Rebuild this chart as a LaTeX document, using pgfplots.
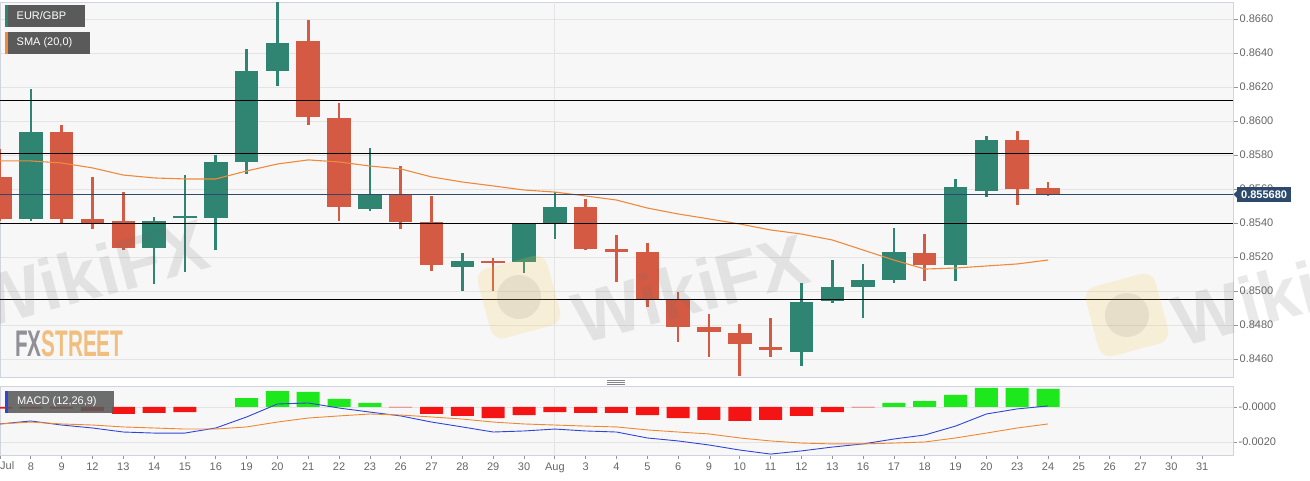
\documentclass[border=0pt]{standalone}
\usepackage{fontspec}
\setmainfont{Liberation Sans}
\usepackage{graphicx}
\usepackage{pgfplots}
\pgfplotsset{compat=1.18}
\usepackage{pgfplotstable}

\definecolor{cgreen}{HTML}{2F8571}
\definecolor{cred}{HTML}{D55A44}
\definecolor{csma}{HTML}{EE8A3C}
\definecolor{cgrid}{HTML}{E4E4E4}
\definecolor{cbg}{HTML}{F7F7F7}
\definecolor{cborder}{HTML}{D0D4DE}
\definecolor{ctick}{HTML}{666666}
\definecolor{cnavy}{HTML}{2D4A6D}
\definecolor{clegend}{HTML}{5A5A5A}
\definecolor{cmacd}{HTML}{2F45D8}
\definecolor{csig}{HTML}{EE8833}
\definecolor{hgreen}{HTML}{1CE81C}
\definecolor{hred}{HTML}{F41414}
\definecolor{wm}{HTML}{6E6464}
\definecolor{wmy}{HTML}{F2C84A}
\definecolor{fxgray}{HTML}{909096}
\definecolor{fxorange}{HTML}{F0BE7E}

% i open high low close
\pgfplotstableread{
i o h l c
1 0.85424 0.86188 0.85412 0.85935
5 0.85253 0.85435 0.85041 0.85412
6 0.85429 0.85682 0.85112 0.85441
7 0.85429 0.85800 0.85241 0.85759
8 0.85759 0.86424 0.85688 0.86294
9 0.86294 0.86700 0.86206 0.86459
12 0.85482 0.85841 0.85471 0.85571
15 0.85141 0.85224 0.85000 0.85176
17 0.85171 0.85400 0.85106 0.85394
18 0.85400 0.85582 0.85306 0.85494
26 0.84641 0.85047 0.84559 0.84935
27 0.84941 0.85182 0.84930 0.85024
28 0.85024 0.85159 0.84841 0.85065
29 0.85065 0.85371 0.85047 0.85229
31 0.85153 0.85659 0.85059 0.85612
32 0.85588 0.85912 0.85553 0.85888
}\greencandles

\pgfplotstableread{
i o h l c
0 0.85671 0.85835 0.85410 0.85424
2 0.85935 0.85976 0.85394 0.85424
3 0.85424 0.85671 0.85365 0.85400
4 0.85412 0.85582 0.85241 0.85253
10 0.86471 0.86594 0.85976 0.86024
11 0.86018 0.86106 0.85412 0.85494
13 0.85571 0.85735 0.85365 0.85406
14 0.85406 0.85559 0.85118 0.85153
16 0.85176 0.85194 0.85000 0.85165
19 0.85494 0.85541 0.85241 0.85247
20 0.85247 0.85329 0.85053 0.85229
21 0.85229 0.85282 0.84906 0.84947
22 0.84947 0.84994 0.84700 0.84788
23 0.84788 0.84865 0.84612 0.84759
24 0.84753 0.84806 0.84500 0.84688
25 0.84671 0.84841 0.84612 0.84653
30 0.85224 0.85335 0.85059 0.85153
33 0.85888 0.85941 0.85506 0.85600
34 0.85606 0.85641 0.85559 0.85568
}\redcandles

\newcommand{\tickfont}{\fontsize{11}{13}\selectfont}
\pgfplotsset{candle/.style 2 args={only marks, mark=*, mark size=0pt,
  mark options={draw=none, fill=none},
  error bars/y dir=plus, error bars/y explicit, error bars/error mark=none,
  error bars/error bar style={draw=#1, line width=#2}}}

\begin{document}
\begin{tikzpicture}[x=1pt,y=1pt]
\useasboundingbox[fill=white] (0,0) rectangle (1310,481);

% ---------------- price panel ----------------
\begin{axis}[
  at={(0pt,104pt)}, anchor=south west,
  scale only axis, width=1233pt, height=375pt,
  xmin=0, xmax=40, ymin=0.84494, ymax=0.8670,
  axis background/.style={fill=cbg},
  axis line style={draw=cborder, line width=0.8pt},
  xtick=\empty,
  extra x ticks={18}, extra x tick labels={},
  extra x tick style={grid=major, major tick length=0pt},
  ytick={0.846,0.848,0.85,0.852,0.854,0.856,0.858,0.86,0.862,0.864,0.866},
  ytick pos=right, yticklabel pos=right,
  scaled y ticks=false,
  tick align=outside, major tick length=5pt,
  tick style={draw=ctick!70, line width=0.7pt},
  ymajorgrids, major grid style={draw=cgrid, line width=0.8pt},
  /pgf/number format/assume math mode=true,
  yticklabel style={/pgf/number format/fixed, /pgf/number format/fixed zerofill,
    /pgf/number format/precision=4, font=\tickfont, text=ctick, inner sep=1.5pt},
  clip=true,
]
% wicks
\addplot[candle={cgreen}{2.6pt}]
  table[x=i, y=l, y error plus expr=\thisrow{h}-\thisrow{l}] {\greencandles};
\addplot[candle={cred}{2.6pt}]
  table[x=i, y=l, y error plus expr=\thisrow{h}-\thisrow{l}] {\redcandles};
% bodies
\addplot[candle={cgreen}{23.5pt}]
  table[x=i, y=o, y error plus expr=\thisrow{c}-\thisrow{o}] {\greencandles};
\addplot[candle={cred}{23.5pt}]
  table[x=i, y=c, y error plus expr=\thisrow{o}-\thisrow{c}] {\redcandles};
% SMA(20)
\addplot[csma, line width=1.1pt] coordinates {
(0,0.85765)(1,0.85765)(2,0.85753)(3,0.85724)(4,0.85682)(5,0.85665)(6,0.85659)(7,0.85659)
(8,0.85706)(9,0.85747)(10,0.85771)(11,0.85759)(12,0.85735)(13,0.85718)(14,0.85671)(15,0.85641)
(16,0.85618)(17,0.85594)(18,0.85582)(19,0.85559)(20,0.85535)(21,0.85488)(22,0.85453)(23,0.85424)
(24,0.85394)(25,0.85359)(26,0.85335)(27,0.853)(28,0.85241)(29,0.85182)(30,0.85129)(31,0.85135)
(32,0.85147)(33,0.85159)(34,0.85182)};
% horizontal levels
\addplot[black, line width=1pt] coordinates {(0,0.86118) (40,0.86118)};
\addplot[black, line width=1pt] coordinates {(0,0.85810) (40,0.85810)};
\addplot[black, line width=1pt] coordinates {(0,0.85398) (40,0.85398)};
\addplot[black, line width=1pt] coordinates {(0,0.84947) (40,0.84947)};
% last price line
\addplot[cnavy, line width=0.9pt] coordinates {(0,0.85568) (40,0.85568)};
\coordinate (lastp) at (axis cs:40,0.85568);
\end{axis}

% ---------------- MACD panel ----------------
\begin{axis}[
  at={(0pt,26pt)}, anchor=south west,
  scale only axis, width=1233pt, height=69pt,
  xmin=0, xmax=40, ymin=-0.002743, ymax=0.0012,
  axis background/.style={fill=cbg},
  axis line style={draw=cborder, line width=0.8pt},
  xtick={0,...,39},
  xticklabels={,8,9,12,13,14,15,16,19,20,21,22,23,26,27,28,29,30,Aug,3,4,5,6,9,10,11,12,13,16,17,18,19,20,23,24,25,26,27,30,31},
  xtick pos=bottom,
  extra x ticks={18}, extra x tick labels={},
  extra x tick style={grid=major, major tick length=0pt},
  ytick={0,-0.002}, yticklabels={-0.0000,-0.0020},
  scaled y ticks=false,
  ytick pos=right, yticklabel pos=right,
  tick align=outside, major tick length=4pt,
  tick style={draw=ctick!70, line width=0.7pt},
  ymajorgrids, major grid style={draw=cgrid, line width=0.8pt},
  yticklabel style={font=\tickfont, text=ctick, inner sep=1.5pt},
  xticklabel style={font=\tickfont, text=ctick},
  clip=true,
]
\addplot[ybar, bar width=23pt, bar shift=0pt, fill=hred, draw=none] coordinates {
(0,-0.0001)(1,-0.0001)(2,-0.0001)(3,-0.00023)(4,-0.0004)(5,-0.00034)(6,-0.00029)
(13,-0.00002)(14,-0.0004)(15,-0.00051)(16,-0.00063)(17,-0.00046)(18,-0.00029)(19,-0.00034)
(20,-0.00034)(21,-0.00046)(22,-0.00063)(23,-0.00074)(24,-0.0008)(25,-0.00074)(26,-0.00051)
(27,-0.00029)(28,-0.00002)};
\addplot[ybar, bar width=23pt, bar shift=0pt, fill=hgreen, draw=none] coordinates {
(8,0.00051)(9,0.00091)(10,0.00086)(11,0.00046)(12,0.00023)
(29,0.00023)(30,0.00034)(31,0.00069)(32,0.00109)(33,0.00109)(34,0.00103)};
\addplot[cmacd, line width=0.9pt] coordinates {
(0,-0.00097)(1,-0.0008)(2,-0.00103)(3,-0.0012)(4,-0.00143)(5,-0.00149)(6,-0.00149)(7,-0.0012)
(8,-0.00057)(9,0.00017)(10,0.00023)(11,-0.00006)(12,-0.00029)(13,-0.00051)(14,-0.00086)
(15,-0.00114)(16,-0.00143)(17,-0.00137)(18,-0.00126)(19,-0.00137)(20,-0.00143)(21,-0.00177)
(22,-0.00194)(23,-0.00217)(24,-0.00246)(25,-0.00269)(26,-0.00251)(27,-0.00229)(28,-0.00211)
(29,-0.00183)(30,-0.0016)(31,-0.00109)(32,-0.0004)(33,-0.00011)(34,0.00006)};
\addplot[csig, line width=0.9pt] coordinates {
(0,-0.00097)(1,-0.00086)(2,-0.00097)(3,-0.00103)(4,-0.00114)(5,-0.0012)(6,-0.00126)(7,-0.00126)
(8,-0.00114)(9,-0.00086)(10,-0.00063)(11,-0.00051)(12,-0.0004)(13,-0.00046)(14,-0.00057)
(15,-0.00069)(16,-0.00086)(17,-0.00097)(18,-0.00103)(19,-0.00109)(20,-0.00114)(21,-0.00131)
(22,-0.00143)(23,-0.00154)(24,-0.00177)(25,-0.00194)(26,-0.00206)(27,-0.00211)(28,-0.00211)
(29,-0.00206)(30,-0.002)(31,-0.00177)(32,-0.00149)(33,-0.0012)(34,-0.00097)};
\end{axis}

% first date label
\node[anchor=north west, inner sep=0pt, font=\tickfont, text=ctick] at (0,19.5) {Jul};

% ---------------- watermarks ----------------
\foreach \cx/\cy in {90/208, 690/193, 1290/190} {
  \node[rotate=15, font=\fontsize{72}{72}\selectfont\bfseries, text=wm, opacity=0.14, inner sep=0pt] at (\cx,\cy) {WikiFX};
}
\foreach \cx/\cy in {519/184, 1127/166} {
  \node[rotate=15, fill=wmy, opacity=0.18, rounded corners=12pt, minimum size=72pt, inner sep=0pt] at (\cx,\cy) {};
  \fill[wm, opacity=0.11] (\cx,\cy) circle (22);
}
\node[anchor=south west, inner sep=0pt] at (15,124)
  {\scalebox{0.56}[1]{\fontsize{37}{37}\selectfont\bfseries\textcolor{fxgray}{FX}\textcolor{fxorange}{STREET}}};

% ---------------- legend boxes ----------------
\fill[clegend] (5,454) rectangle (85,476);
\fill[cgreen] (5,454) rectangle (8,476);
\node[anchor=west, inner sep=0pt, text=white, font=\tickfont] at (16.5,465) {EUR/GBP};
\fill[clegend] (5,427) rectangle (90,449);
\fill[csma] (5,427) rectangle (7.5,449);
\node[anchor=west, inner sep=0pt, text=white, font=\tickfont] at (16.5,438) {SMA (20,0)};
\fill[clegend, fill opacity=0.88] (5,68) rectangle (114,90);
\fill[cmacd] (5,68) rectangle (8,90);
\node[anchor=west, inner sep=0pt, text=white, font=\tickfont] at (17,79) {MACD (12,26,9)};

% last price box
\fill[cnavy] ([xshift=0.5pt]lastp) -- ++(4,4) -- ++(0,-8) -- cycle;
\node[anchor=west, fill=cnavy, text=white, font=\tickfont\bfseries, inner xsep=4pt, inner ysep=0pt,
  minimum height=15pt] at ([xshift=4pt]lastp) {0.855680};

% panel handle
\foreach \yy in {97,99,101} { \draw[ctick!80, line width=0.7pt] (607,\yy) -- (625,\yy); }
\end{tikzpicture}
\end{document}
